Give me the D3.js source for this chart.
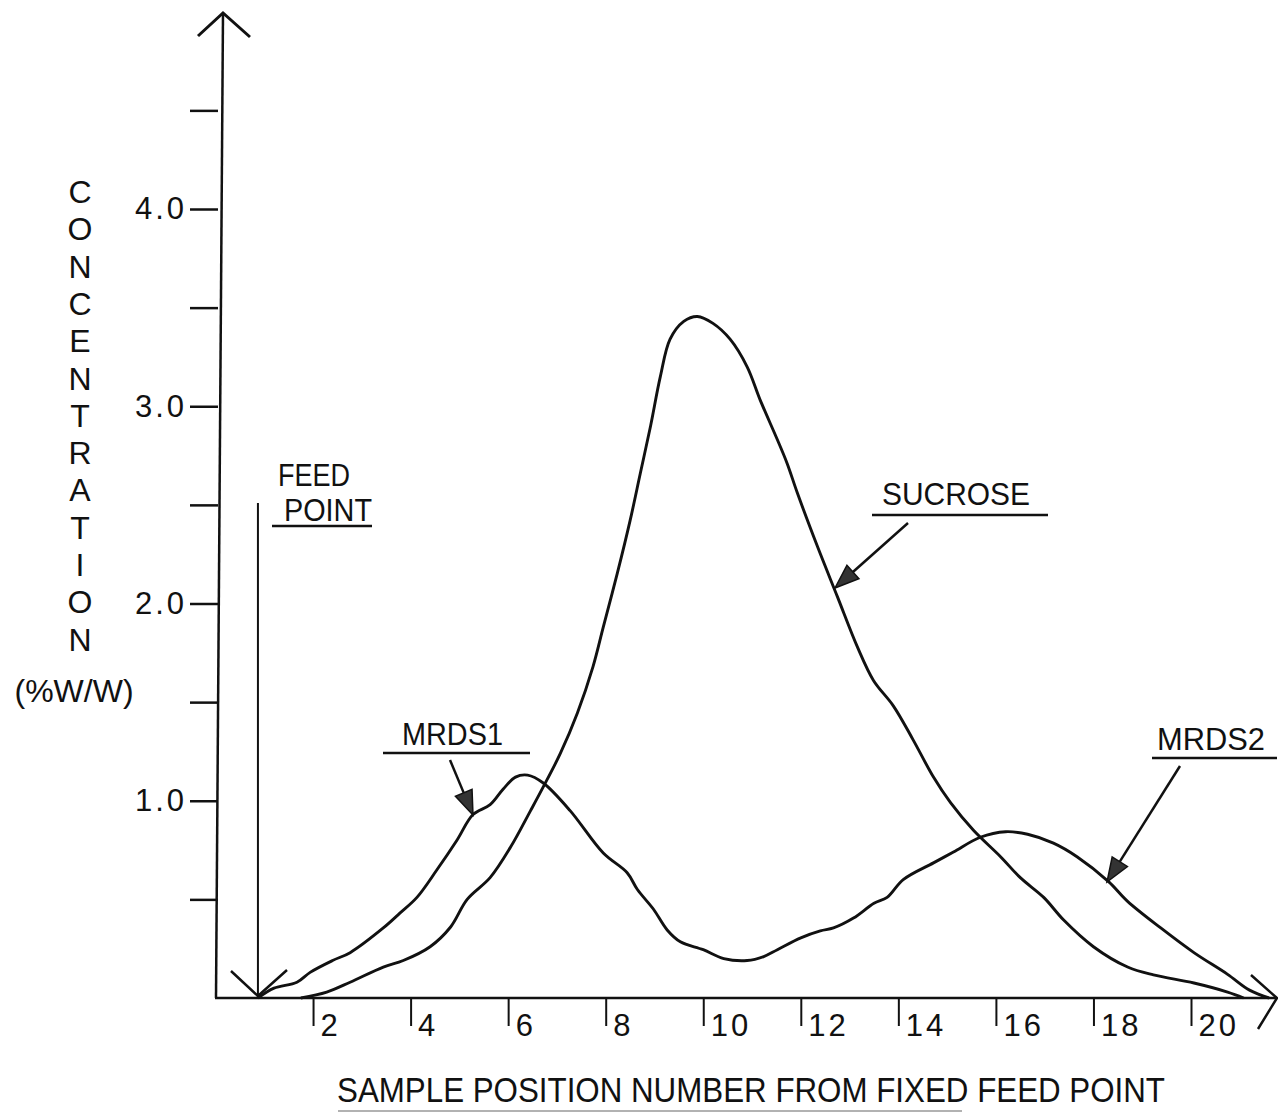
<!DOCTYPE html>
<html>
<head>
<meta charset="utf-8">
<script src="https://d3js.org/d3.v7.min.js"></script>
<style>
  body { margin: 0; background: #fff; }
  text { font-family: "Liberation Sans", Arial, Helvetica, sans-serif; fill: #111; }
</style>
</head>
<body>
<div class="chart"></div>
<script>
// sample position numbers and concentrations (%w/w)
const mrdsX = [0.87, 1.2, 1.67, 1.94, 2.4, 2.76, 3.44, 3.78, 4.13, 4.54, 4.95, 5.28, 5.63, 5.9, 6.15, 6.4, 6.72,
  7.27, 7.95, 8.44, 8.65, 8.98, 9.26, 9.53, 10.0, 10.42, 10.9, 11.24, 11.52, 12.0, 12.4, 12.67, 13.08, 13.5,
  13.77, 14.1, 14.72, 15.13, 15.68, 16.2, 16.65, 17.18, 17.67, 18.31, 18.7, 19.38, 20.06, 20.75, 21.2, 21.6]
const mrdsY = [0, 0.05, 0.08, 0.13, 0.19, 0.23, 0.355, 0.43, 0.51, 0.65, 0.8, 0.93, 0.98, 1.06, 1.12, 1.13, 1.09,
  0.95, 0.735, 0.635, 0.55, 0.45, 0.345, 0.285, 0.245, 0.2, 0.19, 0.21, 0.245, 0.305, 0.34, 0.355, 0.405, 0.48,
  0.51, 0.6, 0.685, 0.74, 0.815, 0.843, 0.83, 0.785, 0.715, 0.59, 0.49, 0.355, 0.23, 0.12, 0.04, 0]

const sucroseX = [1.75, 2.28, 2.76, 3.44, 3.85, 4.4, 4.82, 5.16, 5.63, 6.05, 6.46, 6.72, 7.07, 7.42, 7.74, 7.95,
  8.24, 8.5, 8.71, 8.92, 9.12, 9.32, 9.6, 9.88, 10.2, 10.55, 10.9, 11.17, 11.52, 11.72, 11.93, 12.34, 12.75,
  13.16, 13.49, 13.9, 14.3, 14.72, 15.07, 15.54, 16.1, 16.5, 16.98, 17.39, 18.0, 18.7, 19.23, 20.06, 20.75, 21.08]
const sucroseY = [0, 0.03, 0.08, 0.157, 0.19, 0.26, 0.36, 0.5, 0.61, 0.765, 0.95, 1.07, 1.24, 1.445, 1.68, 1.88,
  2.155, 2.42, 2.66, 2.9, 3.15, 3.34, 3.43, 3.455, 3.42, 3.34, 3.2, 3.03, 2.83, 2.71, 2.56, 2.29, 2.035,
  1.78, 1.61, 1.48, 1.31, 1.12, 0.99, 0.85, 0.715, 0.61, 0.51, 0.395, 0.26, 0.157, 0.117, 0.076, 0.03, 0]

const feedPoint = 0.87
const xTicks = [2, 4, 6, 8, 10, 12, 14, 16, 18, 20]
const yTicks = [0.5, 1, 1.5, 2, 2.5, 3, 3.5, 4, 4.5]
const yTickLabels = { 1: '1.0', 2: '2.0', 3: '3.0', 4: '4.0' }
const yTitle = 'CONCENTRATION'.split('')

const width = 1278, height = 1118

const svg = d3.select('.chart')
  .append('svg')
  .attr('width', width)
  .attr('height', height)

// scales - origin sits at (215, 998)
const x = d3.scaleLinear().domain([0, 20]).range([215.5, 1191])
const y = d3.scaleLinear().domain([0, 4]).range([998, 209])

const ink = '#111'

// x axis
const xAxis = d3.axisBottom(x)
  .tickValues(xTicks)
  .tickSize(28)
  .tickSizeOuter(0)
  .tickFormat(d => d)

const xAxisG = svg.append('g')
  .attr('transform', `translate(0, ${y(0)})`)
  .call(xAxis)

xAxisG.select('.domain').remove()
xAxisG.selectAll('line').attr('stroke', ink).attr('stroke-width', 2)
xAxisG.selectAll('text')
  .attr('x', 7)
  .attr('y', 38)
  .attr('dy', 0)
  .attr('text-anchor', 'start')
  .style('font-size', '31px')
  .style('letter-spacing', '3px')
  .attr('fill', ink)

// y axis
const yAxis = d3.axisLeft(y)
  .tickValues(yTicks)
  .tickSize(28)
  .tickSizeOuter(0)
  .tickPadding(3)
  .tickFormat(d => yTickLabels[d] || '')

const yAxisG = svg.append('g')
  .attr('transform', `translate(218, 0)`)
  .call(yAxis)

yAxisG.select('.domain').remove()
yAxisG.selectAll('line').attr('stroke', ink).attr('stroke-width', 2.5)
yAxisG.selectAll('text')
  .style('font-size', '31px')
  .style('letter-spacing', '3px')
  .attr('fill', ink)

// axis lines with open arrow heads
const axisLine = d3.line()
svg.append('path')
  .attr('d', axisLine([[215, y(0)], [1277, y(0)]]))
  .attr('stroke', ink).attr('stroke-width', 2.5).attr('fill', 'none')
svg.append('path')
  .attr('d', axisLine([[1251, 975], [1277, y(0)], [1258, 1029]]))
  .attr('stroke', ink).attr('stroke-width', 2.5).attr('fill', 'none')
svg.append('path')
  .attr('d', axisLine([[216, y(0)], [223, 13]]))
  .attr('stroke', ink).attr('stroke-width', 2.5).attr('fill', 'none')
svg.append('path')
  .attr('d', axisLine([[198, 36], [223, 13], [250, 37]]))
  .attr('stroke', ink).attr('stroke-width', 3).attr('fill', 'none')

// feed point marker
svg.append('line')
  .attr('x1', x(feedPoint)).attr('x2', x(feedPoint))
  .attr('y1', 503).attr('y2', y(0))
  .attr('stroke', ink).attr('stroke-width', 2)
svg.append('path')
  .attr('d', axisLine([[231, 971], [x(feedPoint), y(0) - 2], [287, 970]]))
  .attr('stroke', ink).attr('stroke-width', 2.5).attr('fill', 'none')

// curves
const line = d3.line()
  .x(d => x(d[0]))
  .y(d => y(d[1]))
  .curve(d3.curveCatmullRom.alpha(0.5))

const series = [
  { name: 'mrds', xs: mrdsX, ys: mrdsY },
  { name: 'sucrose', xs: sucroseX, ys: sucroseY }
]

svg.selectAll('.curve')
  .data(series)
  .enter()
  .append('path')
  .attr('class', 'curve')
  .attr('d', s => line(s.xs.map((v, i) => [v, s.ys[i]])))
  .attr('fill', 'none')
  .attr('stroke', ink)
  .attr('stroke-width', 2.9)
  .attr('stroke-linejoin', 'round')

// y title, stacked letters
svg.selectAll('.ytitle')
  .data(yTitle)
  .enter()
  .append('text')
  .attr('class', 'ytitle')
  .attr('x', 80)
  .attr('y', (d, i) => 203 + i * 37.3)
  .attr('text-anchor', 'middle')
  .style('font-size', '32px')
  .text(d => d)

svg.append('text')
  .attr('x', 74).attr('y', 702)
  .attr('text-anchor', 'middle')
  .style('font-size', '32px')
  .text('(%W/W)')

// x title
svg.append('text')
  .attr('x', 337).attr('y', 1102)
  .attr('textLength', 828)
  .attr('lengthAdjust', 'spacingAndGlyphs')
  .style('font-size', '35px')
  .text('SAMPLE POSITION NUMBER FROM FIXED FEED POINT')
svg.append('line')
  .attr('x1', 338).attr('x2', 962)
  .attr('y1', 1111).attr('y2', 1111)
  .attr('stroke', '#999').attr('stroke-width', 1.5)

// labels with underline and arrows
const labels = [
  { text: 'FEED', x: 278, y: 486, w: 72 },
  { text: 'POINT', x: 284, y: 521, w: 88, ul: [272, 372, 526] },
  { text: 'SUCROSE', x: 882, y: 505, w: 148, ul: [872, 1048, 515], arrow: [[908, 523], [835, 588]] },
  { text: 'MRDS1', x: 402, y: 745, w: 101, ul: [383, 530, 753], arrow: [[450, 760], [473, 815]] },
  { text: 'MRDS2', x: 1157, y: 750, w: 108, ul: [1152, 1277, 758], arrow: [[1180, 766], [1107, 882]] }
]

labels.forEach(l => {
  svg.append('text')
    .attr('x', l.x).attr('y', l.y)
    .attr('textLength', l.w)
    .attr('lengthAdjust', 'spacingAndGlyphs')
    .style('font-size', '32px')
    .text(l.text)

  if (l.ul) {
    svg.append('line')
      .attr('x1', l.ul[0]).attr('x2', l.ul[1])
      .attr('y1', l.ul[2]).attr('y2', l.ul[2])
      .attr('stroke', ink).attr('stroke-width', 2.5)
  }

  if (l.arrow) {
    const [t, h] = l.arrow
    const ang = Math.atan2(h[1] - t[1], h[0] - t[0])
    const len = 24, half = 9
    const bx = h[0] - len * Math.cos(ang), by = h[1] - len * Math.sin(ang)
    svg.append('line')
      .attr('x1', t[0]).attr('y1', t[1])
      .attr('x2', bx).attr('y2', by)
      .attr('stroke', ink).attr('stroke-width', 2.5)
    svg.append('path')
      .attr('d', axisLine([
        h,
        [bx + half * Math.sin(ang), by - half * Math.cos(ang)],
        [bx - half * Math.sin(ang), by + half * Math.cos(ang)]
      ]) + 'Z')
      .attr('fill', '#333')
      .attr('stroke', ink)
      .attr('stroke-width', 1.5)
  }
})
</script>
</body>
</html>
